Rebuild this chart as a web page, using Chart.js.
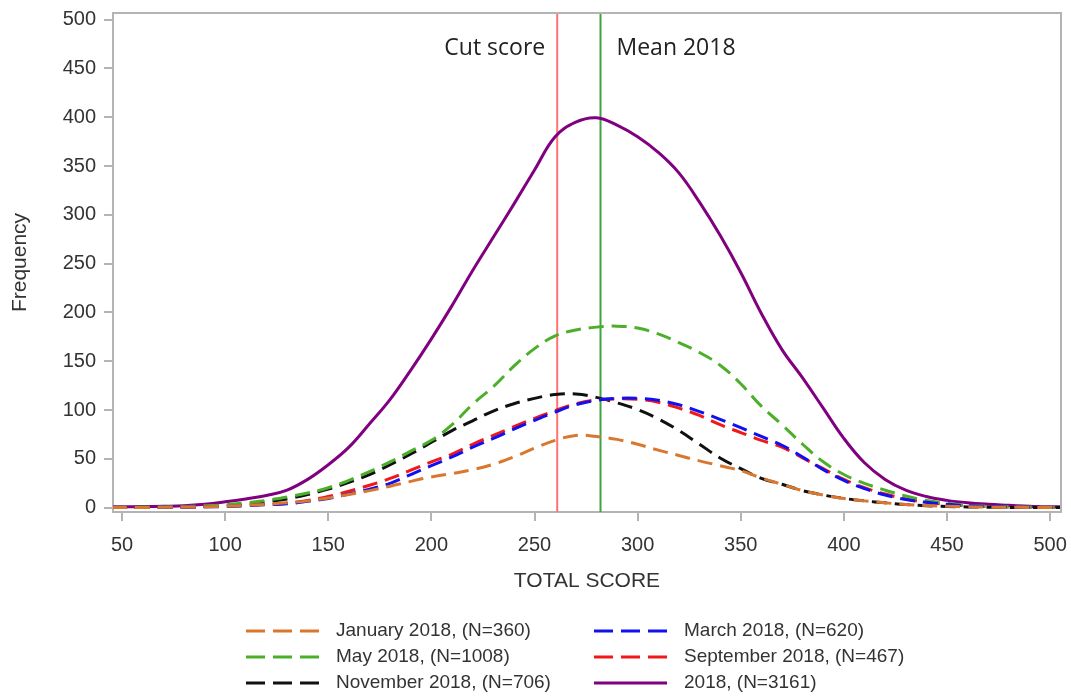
<!DOCTYPE html>
<html><head><meta charset="utf-8">
<script src="https://cdn.jsdelivr.net/npm/chart.js@4.4.0/dist/chart.umd.min.js"></script>
<style>html,body{margin:0;padding:0;background:#fff}</style>
</head><body>
<canvas id="c" width="1071" height="696"></canvas>
<script>
const scores = [45,50,60,70,80,90,100,110,120,130,140,150,160,170,180,190,200,210,220,230,240,250,260,270,280,290,300,310,320,330,340,350,360,370,380,390,400,410,420,430,440,450,460,470,480,490,500,505];

const january2018 = [0.2,0.2,0.3,0.4,0.6,1,1.5,2.5,3.5,5,7,10,13.5,17.5,22,27,31.5,35,39,44.5,52,61,69,74,73,70,65,59,53.5,48,43,38,30.5,24,17.5,13,9.5,7,5,3.3,2.2,1.4,0.9,0.6,0.4,0.3,0.2,0.2];
const march2018 = [0.2,0.2,0.3,0.4,0.6,0.9,1.2,2,3,4,6.5,9.5,14,19,25,34,43,52,62,71,80.5,89.5,98,105.5,110,112,112,110,105.5,98.5,90.5,82,73,64,52,39,28,19.5,13,8.5,5.5,3.5,2,1.2,0.7,0.4,0.3,0.3];
const may2018 = [0.5,0.5,0.6,0.8,1.2,2,3,5,7.5,11,15,20.5,28,37,47,58,69,85,106,124,145,163,176,182,185,186,184,178,169,159,146,127,104,85,65,47,34,25,18,12,7.5,4.5,2.5,1.5,1,0.7,0.5,0.5];
const september2018 = [0.2,0.2,0.3,0.4,0.6,1,1.5,2.5,3.5,4.5,7.5,11.5,17,23,30,38.5,47,55,65,74,83,91.5,99.5,106.5,110.5,111.5,111,108,102,94.5,85,77,69,62,51,40,29,20.5,14,9,5.5,3.5,2,1.2,0.7,0.4,0.3,0.3];
const november2018 = [0.3,0.3,0.4,0.5,0.8,1.2,2,3.5,6,9,13.5,19,26,34,44,55,67,79,89,99,106.5,112,116,116.5,113,107.5,100.5,91,79,65,51,40,30,24,17.5,13,9.5,7,5,3.2,2,1.3,0.8,0.5,0.3,0.2,0.1,0.1];
const all2018 = [1,1,1.2,1.5,2,3.5,6,9,12.5,18,29,44,62,86,111,141,173,207,243,277,311,346,380,395,399.5,392,380,364,343,313,279,241,199,162,133,102,71,46,29,18,11.5,7.5,5,3.5,2.5,1.5,1,1];

const seriesLabels = ['January 2018, (N=360)','March 2018, (N=620)','May 2018, (N=1008)','September 2018, (N=467)','November 2018, (N=706)','2018, (N=3161)'];
const seriesValues = [january2018, march2018, may2018, september2018, november2018, all2018];
const seriesColors = ['#D9772F','#1010F0','#4CAF2A','#F01818','#101010','#800080'];
const seriesDashed = [true,true,true,true,true,false];

const cutScore = 261;
const mean2018 = 282;
const xTicks = [50,100,150,200,250,300,350,400,450,500];
const yTicks = [0,50,100,150,200,250,300,350,400,450,500];

const datasets = seriesValues.map((vals, i) => ({
  label: seriesLabels[i],
  data: scores.map((s, j) => ({x: s, y: vals[j]})),
  borderColor: seriesColors[i],
  backgroundColor: seriesColors[i],
  borderWidth: 3,
  borderDash: seriesDashed[i] ? [15, 8] : [],
  pointRadius: 0,
  tension: 0.4,
  fill: false
}));

const axisGray = '#b4b4b4';
const textColor = '#333333';

const overlay = {
  id: 'overlay',
  beforeDatasetsDraw(chart) {
    const {ctx, chartArea: a, scales: {x}} = chart;
    ctx.save();
    ctx.lineWidth = 2;
    [[cutScore, '#FF7373'], [mean2018, '#3FA33F']].forEach(([v, c]) => {
      const px = x.getPixelForValue(v);
      ctx.strokeStyle = c;
      ctx.beginPath(); ctx.moveTo(px, a.top); ctx.lineTo(px, a.bottom); ctx.stroke();
    });
    ctx.fillStyle = '#222';
    ctx.font = '23px "Open Sans"';
    ctx.textBaseline = 'alphabetic';
    ctx.textAlign = 'right';
    ctx.fillText('Cut score', x.getPixelForValue(cutScore) - 12, a.top + 42);
    ctx.textAlign = 'left';
    ctx.fillText('Mean 2018', x.getPixelForValue(mean2018) + 16, a.top + 42);
    ctx.restore();
  },
  afterDraw(chart) {
    const {ctx, chartArea: a} = chart;
    ctx.save();
    ctx.strokeStyle = axisGray;
    ctx.lineWidth = 2;
    ctx.beginPath();
    ctx.moveTo(a.left, a.top); ctx.lineTo(a.right, a.top); ctx.lineTo(a.right, a.bottom);
    ctx.stroke();
    const colX = [246, 594];
    const rowY = [631, 657, 683];
    ctx.font = '19px "Liberation Sans", Arial, sans-serif';
    ctx.textBaseline = 'middle';
    ctx.textAlign = 'left';
    chart.data.datasets.forEach((ds, i) => {
      const r = Math.floor(i / 2), c = i % 2;
      const x0 = colX[c], y0 = rowY[r];
      ctx.strokeStyle = ds.borderColor;
      ctx.lineWidth = 3;
      ctx.setLineDash(ds.borderDash.length ? [19, 8] : []);
      ctx.beginPath(); ctx.moveTo(x0, y0); ctx.lineTo(x0 + 73, y0); ctx.stroke();
      ctx.setLineDash([]);
      ctx.fillStyle = textColor;
      ctx.fillText(ds.label, x0 + 90, y0);
    });
    ctx.restore();
  }
};

new Chart(document.getElementById('c'), {
  type: 'line',
  data: {datasets},
  options: {
    responsive: false,
    animation: false,
    layout: {padding: {left: 0, top: 13, right: 10, bottom: 102}},
    plugins: {legend: {display: false}, tooltip: {enabled: false}},
    scales: {
      x: {
        type: 'linear', min: 45.6, max: 505.3,
        afterBuildTicks: s => { s.ticks = xTicks.map(v => ({value: v})); },
        afterFit: s => { s.height = 82; s.paddingLeft = 0; s.paddingRight = 0; },
        grid: {drawOnChartArea: false, drawTicks: true, tickLength: 9, color: axisGray, lineWidth: 2},
        border: {color: axisGray, width: 2},
        ticks: {font: {family: '"Liberation Sans", Arial', size: 20}, color: textColor, padding: 12, maxRotation: 0, autoSkip: false},
        title: {display: true, text: 'TOTAL SCORE', font: {family: '"Liberation Sans", Arial', size: 21}, color: textColor, padding: 0}
      },
      y: {
        type: 'linear', min: -4.4, max: 506.8,
        afterBuildTicks: s => { s.ticks = yTicks.map(v => ({value: v})); },
        afterFit: s => { s.width = 113; s.paddingTop = 0; s.paddingBottom = 0; },
        grid: {drawOnChartArea: false, drawTicks: true, tickLength: 9, color: axisGray, lineWidth: 2},
        border: {color: axisGray, width: 2},
        ticks: {font: {family: '"Liberation Sans", Arial', size: 20}, color: textColor, padding: 8, autoSkip: false},
        title: {display: true, text: 'Frequency', font: {family: '"Liberation Sans", Arial', size: 21}, color: textColor, padding: {top: 8, bottom: 0}}
      }
    }
  },
  plugins: [overlay]
});
</script>
</body></html>
